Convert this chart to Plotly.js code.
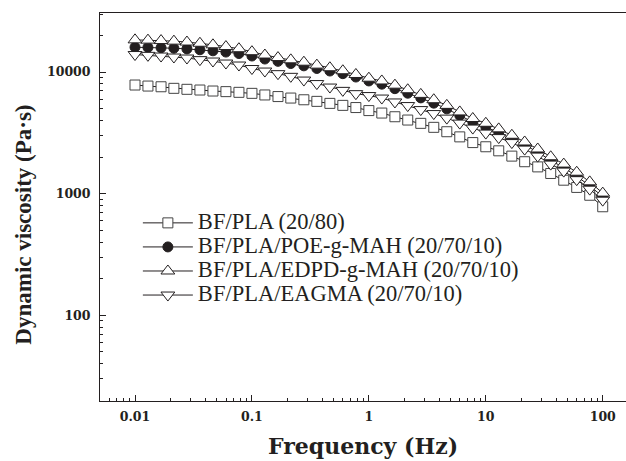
<!DOCTYPE html>
<html>
<head>
<meta charset="utf-8">
<script src="https://cdn.plot.ly/plotly-3.0.1.min.js"></script>
<style>html,body{margin:0;padding:0;background:#fff;}#chart{width:626px;height:461px;}</style>
</head>
<body>
<div id="chart"></div>
<script>
// Frequency (Hz)
var freq = [0.01, 0.0129, 0.0167, 0.0215, 0.0278, 0.0359, 0.0464, 0.0599, 0.0774,
  0.1, 0.129, 0.167, 0.215, 0.278, 0.359, 0.464, 0.599, 0.774,
  1, 1.29, 1.67, 2.15, 2.78, 3.59, 4.64, 5.99, 7.74,
  10, 12.9, 16.7, 21.5, 27.8, 35.9, 46.4, 59.9, 77.4, 100];

var seriesNames = ["BF/PLA (20/80)", "BF/PLA/POE-g-MAH (20/70/10)",
  "BF/PLA/EDPD-g-MAH (20/70/10)", "BF/PLA/EAGMA (20/70/10)"];

// Dynamic viscosity (Pa·s)
var bfPla = [7820, 7670, 7570, 7345, 7210, 7115, 6980, 6900, 6810, 6680, 6480, 6285, 6110,
  5915, 5740, 5525, 5320, 5105, 4820, 4600, 4290, 4030, 3785, 3510, 3230, 2930, 2630,
  2430, 2250, 2035, 1830, 1660, 1465, 1290, 1125, 970, 780];
var poe = [16000, 15950, 15850, 15700, 15500, 15250, 14950, 14600, 14200, 13550, 12800, 12250,
  11750, 11250, 10700, 10200, 9700, 9100, 8450, 7950, 7300, 6700, 6130, 5550, 4980, 4400,
  3880, 3540, 3190, 2830, 2510, 2200, 1870, 1640, 1390, 1160, 945];
var edpd = [18400, 18300, 18150, 17950, 17650, 17250, 16750, 16200, 15550, 14700, 13800, 13150,
  12600, 12050, 11400, 10850, 10250, 9550, 8900, 8450, 7800, 7150, 6550, 5920, 5320, 4700,
  4150, 3790, 3410, 3020, 2660, 2330, 2010, 1750, 1500, 1250, 1010];
var eagma = [13930, 13720, 13540, 13290, 13040, 12650, 12320, 11860, 11420, 10690, 10190, 9700,
  9220, 8590, 8040, 7525, 7070, 6640, 6405, 6110, 5675, 5300, 4912, 4555, 4180, 3803,
  3460, 3147, 2890, 2630, 2324, 2035, 1749, 1532, 1303, 1089, 884];

var xTickVals = [0.01, 0.1, 1, 10, 100];
var xTickText = ["0.01", "0.1", "1", "10", "100"];
var yTickVals = [100, 1000, 10000];
var yTickText = ["100", "1000", "10000"];

var ink = "#231f20";
function tr(y, name, symbol, fill, size, lineColor) {
  return {
    x: freq, y: y, type: "scatter", mode: "lines+markers",
    name: '<span style="font-size:22.5px">' + name + '</span>',
    line: {color: ink, width: 1},
    marker: {symbol: symbol, size: size, color: fill, line: {color: lineColor || ink, width: 1}},
    hoverinfo: "skip"
  };
}
var data = [
  tr(bfPla, seriesNames[0], "square", "#ffffff", 10, "#444"),
  tr(poe, seriesNames[1], "circle", ink, 10),
  tr(edpd, seriesNames[2], "triangle-up", "#ffffff", 12),
  tr(eagma, seriesNames[3], "triangle-down", "#ffffff", 12)
];

var tickFont = {family: "DejaVu Serif", size: 12.5, color: ink, weight: "bold"};
var layout = {
  width: 626, height: 461,
  margin: {l: 100, r: 0, t: 13, b: 60},
  paper_bgcolor: "#fff", plot_bgcolor: "#fff",
  showlegend: true,
  legend: {
    x: 0.072, y: 0.503, xanchor: "left", yanchor: "top",
    bgcolor: "rgba(0,0,0,0)", borderwidth: 0,
    font: {family: "Liberation Serif", size: 16.2, color: ink},
    itemwidth: 50, tracegroupgap: 0
  },
  xaxis: {
    type: "log", range: [-2.2994, 2.199], autorange: false,
    showgrid: false, zeroline: false,
    showline: true, linecolor: ink, linewidth: 1, mirror: true,
    ticks: "inside", ticklen: 6, tickwidth: 1, tickcolor: ink,
    tickmode: "array", tickvals: xTickVals, ticktext: xTickText,
    tickfont: tickFont, ticklabelstandoff: 4,
    minor: {ticks: "inside", ticklen: 3, tickwidth: 1, tickcolor: ink, dtick: "D1", showgrid: false}
  },
  yaxis: {
    type: "log", range: [1.2947, 4.4856], autorange: false,
    showgrid: false, zeroline: false,
    showline: true, linecolor: ink, linewidth: 1, mirror: false,
    ticks: "inside", ticklen: 6, tickwidth: 1, tickcolor: ink,
    tickmode: "array", tickvals: yTickVals, ticktext: yTickText,
    tickfont: tickFont, ticklabelstandoff: 6,
    minor: {ticks: "inside", ticklen: 3, tickwidth: 1, tickcolor: ink, dtick: "D1", showgrid: false}
  },
  annotations: [
    {text: "Frequency (Hz)", xref: "paper", yref: "paper", x: 0.5, y: -0.116,
     xanchor: "center", yanchor: "middle", showarrow: false,
     font: {family: "DejaVu Serif", size: 22, color: ink, weight: "bold"}},
    {text: "Dynamic viscosity (Pa·s)", xref: "paper", yref: "paper", x: -0.146, y: 0.455,
     xanchor: "center", yanchor: "middle", showarrow: false, textangle: -90,
     font: {family: "Liberation Serif", size: 23, color: ink, weight: "bold"}}
  ]
};
Plotly.newPlot("chart", data, layout, {displayModeBar: false, staticPlot: true});
</script>
</body>
</html>
